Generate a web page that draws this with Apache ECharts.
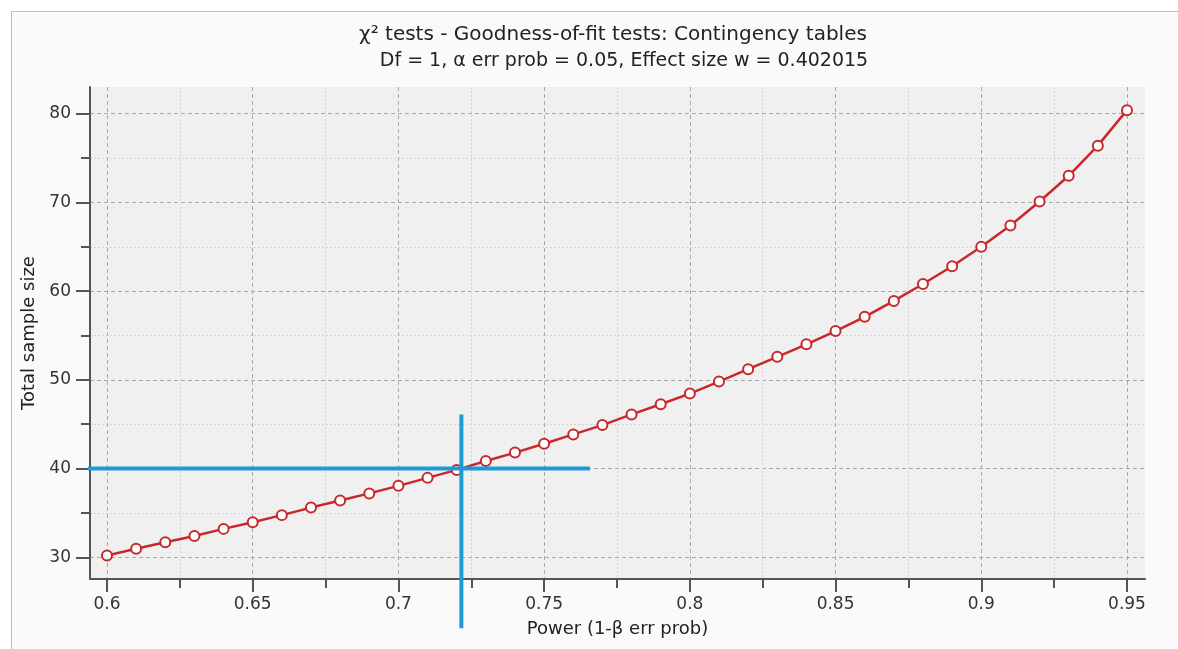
<!DOCTYPE html>
<html>
<head>
<meta charset="utf-8">
<title>Power plot</title>
<script src="https://cdn.jsdelivr.net/npm/echarts@6/dist/echarts.min.js"></script>
<style>
  html, body { margin: 0; padding: 0; background: #ffffff; }
  #chart { width: 1178px; height: 649px; }
</style>
</head>
<body>
<div id="chart"></div>
<script>
// power (1 - beta) values along the x axis
var power = [0.60, 0.61, 0.62, 0.63, 0.64, 0.65, 0.66, 0.67, 0.68, 0.69,
             0.70, 0.71, 0.72, 0.73, 0.74, 0.75, 0.76, 0.77, 0.78, 0.79,
             0.80, 0.81, 0.82, 0.83, 0.84, 0.85, 0.86, 0.87, 0.88, 0.89,
             0.90, 0.91, 0.92, 0.93, 0.94, 0.95];
// total sample size
var sampleSize = [30.2, 30.95, 31.7, 32.4, 33.2, 33.95, 34.75, 35.6, 36.4, 37.2,
                  38.05, 38.95, 39.85, 40.85, 41.8, 42.8, 43.85, 44.9, 46.1, 47.25,
                  48.45, 49.8, 51.2, 52.6, 54.0, 55.5, 57.1, 58.9, 60.8, 62.8,
                  65.0, 67.4, 70.1, 73.0, 76.4, 80.4];

// tick values
var xMajor = [0.6, 0.65, 0.7, 0.75, 0.8, 0.85, 0.9, 0.95];
var xMinor = [0.625, 0.675, 0.725, 0.775, 0.825, 0.875, 0.925];
var yMajor = [30, 40, 50, 60, 70, 80];
var yMinor = [35, 45, 55, 65, 75];

// blue cross hair (sample size 40 -> power ~0.72)
var crossPower = 0.7216;
var crossSize = 40;
var hLineX = [0.5889, 0.7657];
var vLineY = [46.1, 22.0];

var titleText = "\u03c7\u00b2 tests - Goodness-of-fit tests: Contingency tables";
var subText = "Df = 1, \u03b1 err prob = 0.05, Effect size w = 0.402015";

var FONT = "'DejaVu Sans', 'Noto Sans', sans-serif";

var myChart = echarts.init(document.getElementById("chart"));

var curve = power.map(function (p, i) { return [p, sampleSize[i]]; });
var hLine = [[hLineX[0], crossSize], [hLineX[1], crossSize]];
var vLine = [[crossPower, vLineY[0]], [crossPower, vLineY[1]]];

var xMin = 0.59417, xMax = 0.95618;
var yMin = 27.55, yMax = 83.01;

var option = {
  animation: false,
  backgroundColor: "#ffffff",
  graphic: [
    {
      type: "rect",
      z: -10,
      silent: true,
      shape: { x: 11.5, y: 11.5, width: 1200, height: 700 },
      style: { fill: "#fafafa", stroke: "#bdbdbd", lineWidth: 1 }
    }
  ],
  title: [
    {
      text: titleText,
      left: 608,
      top: 20,
      textAlign: "center",
      textStyle: { fontFamily: FONT, fontSize: 20, fontWeight: "normal", color: "#222222" }
    },
    {
      text: subText,
      left: 619,
      top: 47,
      textAlign: "center",
      textStyle: { fontFamily: FONT, fontSize: 19, fontWeight: "normal", color: "#222222" }
    }
  ],
  grid: {
    left: 90,
    right: 33,
    top: 87,
    bottom: 70,
    show: true,
    backgroundColor: "#f0f0f0",
    borderWidth: 0
  },
  xAxis: [
    {
      type: "value",
      position: "bottom",
      min: xMin,
      max: xMax,
      name: "Power (1-\u03b2 err prob)",
      nameLocation: "middle",
      nameGap: 41,
      nameTextStyle: { fontFamily: FONT, fontSize: 18, color: "#222222" },
      axisLine: { show: true, onZero: false, lineStyle: { color: "#555555", width: 2 } },
      axisTick: { show: true, customValues: xMajor, length: 13, lineStyle: { color: "#555555", width: 2 } },
      axisLabel: { show: true, customValues: xMajor, margin: 17, fontFamily: FONT, fontSize: 17, color: "#333333" },
      splitLine: { show: true, lineStyle: { color: "#aaaaaa", width: 1, type: [4, 3] } }
    },
    {
      type: "value",
      position: "bottom",
      min: xMin,
      max: xMax,
      axisLine: { show: false, onZero: false },
      axisTick: { show: true, customValues: xMinor, length: 9, lineStyle: { color: "#555555", width: 2 } },
      axisLabel: { show: false, customValues: xMinor },
      splitLine: { show: true, lineStyle: { color: "#d4d4d4", width: 1, type: [2, 2] } }
    }
  ],
  yAxis: [
    {
      type: "value",
      position: "left",
      min: yMin,
      max: yMax,
      name: "Total sample size",
      nameLocation: "middle",
      nameGap: 51,
      nameTextStyle: { fontFamily: FONT, fontSize: 18, color: "#222222" },
      axisLine: { show: true, onZero: false, lineStyle: { color: "#555555", width: 2 } },
      axisTick: { show: true, customValues: yMajor, length: 14, lineStyle: { color: "#555555", width: 2 } },
      axisLabel: { show: true, customValues: yMajor, margin: 19, fontFamily: FONT, fontSize: 17, color: "#333333" },
      splitLine: { show: true, lineStyle: { color: "#aaaaaa", width: 1, type: [4, 3] } }
    },
    {
      type: "value",
      position: "left",
      min: yMin,
      max: yMax,
      axisLine: { show: false, onZero: false },
      axisTick: { show: true, customValues: yMinor, length: 9, lineStyle: { color: "#555555", width: 2 } },
      axisLabel: { show: false, customValues: yMinor },
      splitLine: { show: true, lineStyle: { color: "#d4d4d4", width: 1, type: [2, 2] } }
    }
  ],
  series: [
    {
      type: "line",
      xAxisIndex: 0,
      yAxisIndex: 0,
      data: curve,
      z: 3,
      symbol: "circle",
      symbolSize: 10,
      lineStyle: { color: "#c8282b", width: 2.5 },
      itemStyle: { color: "#ffffff", borderColor: "#c8282b", borderWidth: 2 }
    },
    {
      type: "line",
      xAxisIndex: 0,
      yAxisIndex: 0,
      data: hLine,
      clip: false,
      z: 5,
      symbol: "none",
      lineStyle: { color: "#1e9ad6", width: 4 }
    },
    {
      type: "line",
      xAxisIndex: 0,
      yAxisIndex: 0,
      data: vLine,
      clip: false,
      z: 5,
      symbol: "none",
      lineStyle: { color: "#1e9ad6", width: 4 }
    }
  ]
};

myChart.setOption(option);
window.addEventListener("resize", function () {
  myChart.resize();
});
</script>
</body>
</html>
